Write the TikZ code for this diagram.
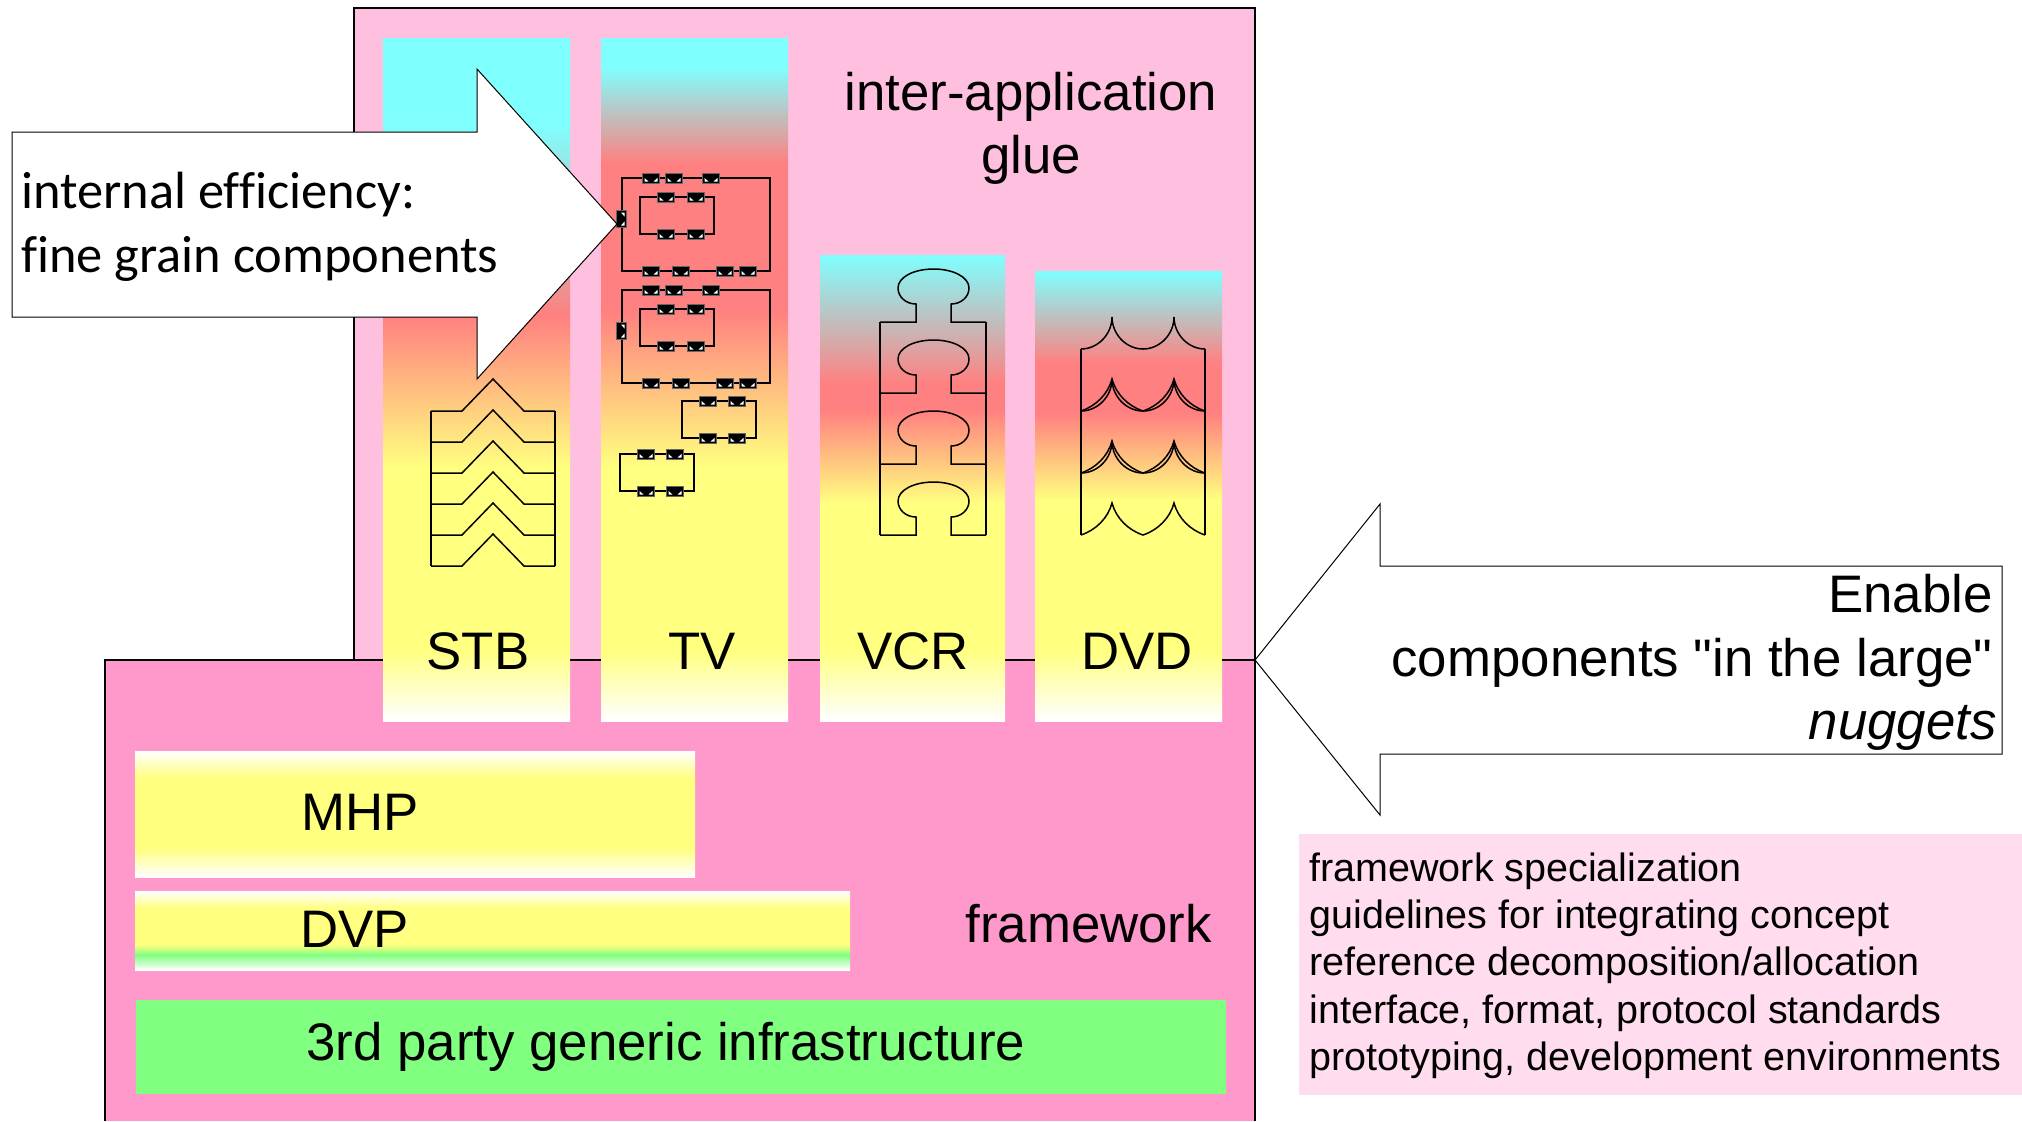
\documentclass[tikz,border=0pt]{standalone}
\usepackage{fontspec}
\setmainfont{Liberation Sans}
\newfontfamily\arialplain{Liberation Sans}
\newfontfamily\calibrifont[Ligatures=NoCommon]{Carlito}
\definecolor{cy}{HTML}{80FFFF}
\definecolor{sa}{HTML}{FF8080}
\definecolor{ye}{HTML}{FFFF80}
\definecolor{gr}{HTML}{80FF80}
\definecolor{pinkA}{HTML}{FFBFDF}
\definecolor{pinkB}{HTML}{FF99CC}
\definecolor{pinkC}{HTML}{FFDDEE}
\pgfdeclareverticalshading{stbshade}{100bp}{color(0bp)=(white);color(25bp)=(white);color(30.2bp)=(ye);color(43.59bp)=(ye);color(54.72bp)=(sa);color(68.63bp)=(cy);color(100bp)=(cy)}
\pgfdeclareverticalshading{tvshade}{100bp}{color(0bp)=(white);color(25bp)=(white);color(30.2bp)=(ye);color(43.59bp)=(ye);color(55.09bp)=(sa);color(65.85bp)=(sa);color(72.88bp)=(cy);color(100bp)=(cy)}
\pgfdeclareverticalshading{vcrshade}{100bp}{color(0bp)=(white);color(25bp)=(white);color(32.62bp)=(ye);color(48.39bp)=(ye);color(58.37bp)=(sa);color(61.27bp)=(sa);color(75bp)=(cy);color(100bp)=(cy)}
\pgfdeclareverticalshading{dvdshade}{100bp}{color(0bp)=(white);color(25bp)=(white);color(32.89bp)=(ye);color(49.56bp)=(ye);color(59.22bp)=(sa);color(64.78bp)=(sa);color(75bp)=(cy);color(100bp)=(cy)}
\pgfdeclareverticalshading{mhpshade}{100bp}{color(0bp)=(white);color(25bp)=(white);color(36.5bp)=(ye);color(64.3bp)=(ye);color(75bp)=(white);color(100bp)=(white)}
\pgfdeclareverticalshading{dvpshade}{100bp}{color(0bp)=(white);color(25bp)=(white);color(34.5bp)=(gr);color(41bp)=(ye);color(64.2bp)=(ye);color(75bp)=(white);color(100bp)=(white)}
\newcommand{\hportat}[2]{%
  \fill[black,draw=black!60,line width=0.4pt] (#1-8.5,#2-5) rectangle (#1+8.5,#2+5);
  \fill[white] (#1-6.5,#2) -- (#1-6.5,#2+3.5) -- (#1-2.5,#2+3.5) -- cycle;
  \fill[white] (#1+6.5,#2) -- (#1+6.5,#2+3.5) -- (#1+2.5,#2+3.5) -- cycle;}
\newcommand{\vportat}[2]{%
  \fill[black,draw=black!60,line width=0.4pt] (#1-5,#2-8.5) rectangle (#1+5,#2+8.5);
  \fill[white] (#1,#2-6.5) -- (#1+3.5,#2-6.5) -- (#1+3.5,#2-2.5) -- cycle;
  \fill[white] (#1,#2+6.5) -- (#1+3.5,#2+6.5) -- (#1+3.5,#2+2.5) -- cycle;}
\newcommand{\bigcomp}[1]{%
  \draw[thinln] (622,178+#1) rectangle (770,271+#1);
  \draw[thinln] (640,197+#1) rectangle (714,234+#1);
  \foreach \px in {651,674,711} {\hportat{\px}{178+#1}}
  \foreach \px in {666,696} {\hportat{\px}{197+#1}\hportat{\px}{234+#1}}
  \foreach \px in {651,681,725,748} {\hportat{\px}{271+#1}}
  \vportat{621}{219+#1}}
\newcommand{\smallcomp}[2]{%
  \draw[thinln] (#1,#2) rectangle (#1+74,#2+37);
  \foreach \px in {26,55} {\hportat{#1+\px}{#2}\hportat{#1+\px}{#2+37}}}
\newcommand{\bulb}[1]{%
  (916,322+#1) -- (916,304+#1) .. controls (906,304+#1) and (898,297+#1) .. (898,288+#1)
  .. controls (898,277+#1) and (914,269+#1) .. (933.5,269+#1)
  .. controls (953,269+#1) and (969,277+#1) .. (969,288+#1)
  .. controls (969,297+#1) and (961,304+#1) .. (951,304+#1) -- (951,322+#1)}
\newcommand{\scalflat}[1]{%
  (1081,#1) .. controls (1098,#1) and (1112,#1-15) .. (1112,#1-32)
  .. controls (1112,#1-15) and (1126,#1) .. (1143,#1)
  .. controls (1160,#1) and (1174,#1-15) .. (1174,#1-32)
  .. controls (1174,#1-15) and (1188,#1) .. (1205,#1)}
\newcommand{\scalpoint}[1]{%
  (1081,#1) .. controls (1096,#1-5) and (1108,#1-17) .. (1112,#1-32)
  .. controls (1116,#1-17) and (1128,#1-5) .. (1143,#1)
  .. controls (1158,#1-5) and (1170,#1-17) .. (1174,#1-32)
  .. controls (1178,#1-17) and (1190,#1-5) .. (1205,#1)}
\tikzset{
  thinln/.style={draw=black,line width=0.75pt,line join=miter},
  labeltext/.style={inner sep=0pt,font=\fontsize{26.4}{32}\selectfont},
  efftext/.style={inner sep=0pt,anchor=base west,font=\calibrifont\fontsize{26.2}{30}\selectfont},
  legendtext/.style={inner sep=0pt,anchor=base west,font=\fontsize{19.75}{24}\selectfont},
  arrowbox/.style={draw=black,fill=white,line width=0.5pt,line join=miter},
}
\begin{document}
\begin{tikzpicture}[x=0.5pt,y=-0.5pt]
\useasboundingbox (0,0) rectangle (2022,1121);
\fill[white] (0,0) rectangle (2022,1121);
\fill[pinkA,draw=black,line width=0.6pt] (354,8) rectangle (1255,660);
\fill[pinkB] (105,660) rectangle (1255,1121);
\draw[black,line width=0.6pt] (105,1121) -- (105,660) -- (1255,660) -- (1255,1121);
\shade[shading=stbshade] (383,38) rectangle (570,721);
\shade[shading=tvshade] (601,38) rectangle (788,721);
\shade[shading=vcrshade] (820,255) rectangle (1005,721);
\shade[shading=dvdshade] (1035,271) rectangle (1222,721);
\shade[shading=mhpshade] (135,751) rectangle (695,877);
\shade[shading=dvpshade] (135,891) rectangle (850,970);
\fill[gr] (136,1000) rectangle (1226,1094);
\fill[pinkC] (1299,834) rectangle (2022,1095);
\draw[thinln] (431,411) -- (431,566);
\draw[thinln] (555,411) -- (555,566);
\foreach \c in {0,31,62,93,124,155}
  \draw[thinln] (431,411+\c) -- (462,411+\c) -- (493,379+\c) -- (524,411+\c) -- (555,411+\c);
\bigcomp{0}
\bigcomp{112}
\smallcomp{682}{401}
\smallcomp{620}{454}
\draw[thinln] (880,322) -- (880,535);
\draw[thinln] (986,322) -- (986,535);
\foreach \c in {0,71,142,213}
  \draw[thinln] (880,322+\c) -- \bulb{\c} -- (986,322+\c);
\draw[thinln] (1081,349) -- (1081,535);
\draw[thinln] (1205,349) -- (1205,535);
\foreach \c in {349,411,473} \draw[thinln] \scalflat{\c};
\foreach \c in {411,473,535} \draw[thinln] \scalpoint{\c};
\draw[arrowbox] (12,132) -- (477,132) -- (477,69) -- (617,224) -- (477,379) -- (477,317) -- (12,317) -- cycle;
\draw[arrowbox] (2002,566) -- (1380,566) -- (1380,504) -- (1255,660) -- (1380,815) -- (1380,754) -- (2002,754) -- cycle;
\node[labeltext,anchor=base] (stb) at (478,669) {STB};
\node[labeltext,anchor=base] (tv) at (702,669) {TV};
\node[labeltext,anchor=base] (vcr) at (913,669) {VCR};
\node[labeltext,anchor=base] (dvd) at (1137,669) {DVD};
\node[labeltext,anchor=base west] (mhp) at (301,830) {MHP};
\node[labeltext,anchor=base west] (dvp) at (300,947) {DVP};
\node[labeltext,anchor=base west] (infra) at (306,1060) {3rd party generic infrastructure};
\node[labeltext,anchor=base west] (fw) at (965,942) {framework};
\node[labeltext,anchor=base] (glue1) at (1031,110) {inter-application};
\node[labeltext,anchor=base] (glue2) at (1031,173) {glue};
\node[labeltext,anchor=base east] (en1) at (1993,612) {Enable};
\node[labeltext,anchor=base east] (en2) at (1993,676) {\arialplain components "in the large"};
\node[labeltext,anchor=base east] (en3) at (1997,739) {\itshape nuggets};
\node[efftext] (eff1) at (21,208) {internal efficiency:};
\node[efftext] (eff2) at (21,272) {fine grain components};
\foreach \nm/\yy/\tx in {la/881/framework specialization,lb/928/guidelines for integrating concept,lc/975/reference decomposition\slash allocation,ld/1023/{interface, format, protocol standards},le/1070/{prototyping, development environments}}
  \node[legendtext] (\nm) at (1309,\yy) {\tx};
\end{tikzpicture}
\end{document}
